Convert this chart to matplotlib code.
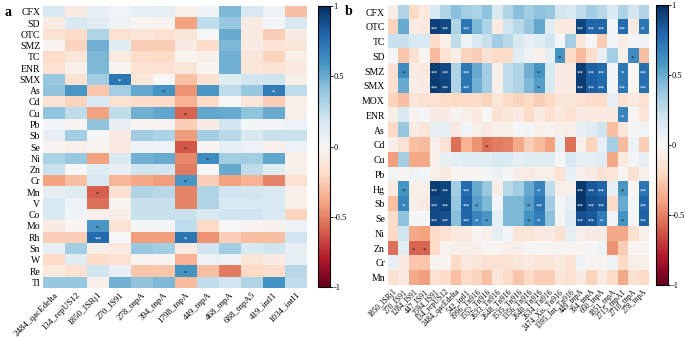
import numpy as np
import matplotlib
matplotlib.use("Agg")
import matplotlib.pyplot as plt

plt.rcParams['font.family'] = ['Liberation Serif', 'DejaVu Serif']
plt.rcParams['axes.unicode_minus'] = False

# ---- panel a ----
rows_a = ['CFX', 'SD', 'OTC', 'SMZ', 'TC', 'ENR', 'SMX', 'As', 'Cd', 'Cu', 'Pb', 'Sb', 'Se',
          'Ni', 'Zn', 'Cr', 'Mn', 'V', 'Co', 'Mo', 'Rh', 'Sn', 'W', 'Re', 'Tl']
cols_a = ['2484_qacEdelta', '134_repUS12', '1850_ISRj1', '270_IS91', '278_tnpA', '394_tnpA',
          '1798_tnpA', '449_tnpA', '468_tnpA', '688_tnpA5', '419_intI1', '1034_intI1']
vals_a = [
    [0.15, -0.08, 0.08, 0.03, 0.08, 0.10, -0.05, 0.04, 0.45, 0.15, 0.06, -0.30],
    [-0.08, 0.15, 0.12, 0.05, -0.02, -0.03, -0.40, 0.25, 0.38, -0.08, 0.02, 0.15],
    [-0.15, -0.18, 0.30, -0.15, -0.12, -0.15, -0.12, 0.00, 0.50, -0.10, -0.25, -0.08],
    [-0.03, -0.22, 0.48, 0.12, -0.25, -0.25, -0.08, -0.18, 0.45, -0.08, -0.13, -0.12],
    [-0.18, -0.12, 0.45, -0.10, -0.18, -0.20, -0.03, -0.06, 0.48, -0.12, -0.22, -0.06],
    [-0.15, -0.06, 0.45, -0.03, -0.15, -0.15, -0.12, -0.02, 0.48, -0.12, -0.15, -0.10],
    [0.38, -0.15, 0.35, 0.72, -0.12, 0.00, -0.30, -0.15, 0.12, 0.18, 0.20, -0.06],
    [0.40, 0.58, -0.28, 0.35, 0.52, 0.60, -0.45, 0.58, 0.25, 0.38, 0.70, 0.25],
    [-0.15, -0.22, 0.15, -0.15, -0.18, -0.20, -0.35, -0.20, 0.00, -0.12, -0.25, -0.06],
    [0.40, 0.25, -0.40, 0.25, 0.48, 0.52, -0.58, 0.52, 0.50, 0.40, 0.50, -0.05],
    [0.02, -0.03, 0.40, 0.08, -0.03, -0.03, -0.25, -0.08, 0.18, 0.02, 0.02, 0.06],
    [0.08, 0.35, 0.00, -0.08, 0.35, 0.32, -0.42, 0.35, 0.28, 0.15, 0.22, 0.22],
    [-0.03, -0.05, -0.03, -0.10, 0.06, 0.05, -0.62, -0.02, 0.10, 0.06, -0.05, 0.06],
    [0.32, 0.38, -0.40, 0.15, 0.48, 0.50, -0.48, 0.62, 0.35, 0.35, 0.52, -0.05],
    [0.22, 0.00, 0.12, 0.08, 0.20, 0.20, -0.52, 0.00, 0.50, 0.25, 0.12, -0.05],
    [-0.40, -0.30, 0.15, -0.33, -0.38, -0.42, 0.58, -0.25, -0.40, -0.35, -0.50, -0.15],
    [0.10, 0.12, -0.60, -0.15, 0.30, 0.28, -0.50, 0.30, 0.20, 0.18, 0.15, -0.05],
    [0.15, 0.06, -0.55, -0.03, 0.22, 0.22, -0.50, 0.30, 0.15, 0.15, 0.15, -0.05],
    [0.15, 0.04, -0.05, -0.06, 0.22, 0.22, 0.22, 0.15, 0.20, 0.20, 0.15, -0.22],
    [-0.08, -0.02, 0.58, -0.15, 0.02, 0.02, 0.25, -0.20, 0.00, -0.03, -0.04, 0.06],
    [-0.25, -0.25, 0.78, 0.00, -0.42, -0.42, 0.72, -0.45, -0.25, -0.30, -0.30, 0.20],
    [0.08, 0.35, -0.06, -0.10, 0.38, 0.35, -0.10, 0.20, 0.35, 0.15, 0.20, 0.08],
    [-0.20, 0.12, -0.18, -0.15, -0.02, -0.03, -0.35, 0.06, 0.05, -0.12, -0.08, 0.10],
    [-0.10, -0.15, 0.20, 0.08, -0.28, -0.28, 0.60, -0.30, -0.52, -0.20, -0.18, 0.28],
    [0.38, 0.38, -0.05, 0.48, 0.40, 0.45, -0.32, 0.25, 0.20, 0.30, 0.60, 0.25],
]
# significance marks: (row, col, text)
sig_a = [('SMX', '270_IS91', '*'), ('As', '394_tnpA', '*'), ('As', '419_intI1', '*'),
         ('Cu', '1798_tnpA', '*'), ('Se', '1798_tnpA', '*'), ('Ni', '449_tnpA', '*'),
         ('Cr', '1798_tnpA', '*'), ('Mn', '1850_ISRj1', '*'), ('Mo', '1850_ISRj1', '*'),
         ('Rh', '1850_ISRj1', '**'), ('Rh', '1798_tnpA', '*'), ('Re', '1798_tnpA', '*')]

# ---- panel b ----
rows_b = ['CFX', 'OTC', 'TC', 'SD', 'SMZ', 'SMX', 'MOX', 'ENR', 'As', 'Cd', 'Cu', 'Pb',
          'Hg', 'Sb', 'Se', 'Ni', 'Zn', 'Cr', 'Mn']
cols_b = ['1850_ISRj1', '270_IS91', '1284_IS91', '447_IS91', '2594_IS91', '134_repUS12',
          '2484_qacEdelta', '542_intI1', '1996_Tn916', '1552_Tn916', '2633_Tn916',
          '2648_Tn916', '1535_Tn916', '1356_Tn916', '2640_Tn916', '2634_Tn916',
          '2474_Xis_Tn916', '1395_Int_Tn916', '449_tnpA', '394_tnpA', '660_tnpA',
          '1851_tnpA', '2715_tnpA1', '2710_tnpA', '278_tnpA']
vals_b = [
    [-0.06, 0.30, -0.20, -0.10, 0.15, 0.30, 0.42, 0.35, 0.32, 0.40, 0.15, 0.30, 0.42,
     0.35, 0.40, 0.38, 0.18, 0.15, 0.25, 0.35, 0.28, 0.15, 0.32, 0.18, 0.30],
    [-0.22, 0.50, -0.08, -0.10, 0.93, 0.90, 0.30, 0.72, 0.45, 0.32, -0.10, 0.20, 0.28,
     0.38, 0.52, 0.12, -0.10, -0.10, 0.92, 0.80, 0.80, 0.03, 0.78, -0.08, 0.72],
    [0.22, 0.22, 0.15, 0.15, -0.18, -0.06, 0.25, 0.04, 0.15, 0.22, 0.35, 0.28, 0.15,
     0.08, 0.12, 0.20, 0.02, 0.35, -0.12, 0.02, -0.25, 0.03, -0.06, 0.02, 0.05],
    [0.02, -0.28, -0.15, -0.02, -0.32, -0.15, -0.06, -0.22, -0.25, -0.15, -0.20, -0.18, 0.12,
     0.06, -0.05, 0.10, 0.60, -0.20, -0.32, -0.18, 0.08, 0.35, -0.05, 0.62, -0.30],
    [-0.15, 0.62, -0.08, -0.10, 0.95, 0.90, 0.30, 0.72, 0.50, 0.35, -0.05, 0.25, 0.30,
     0.48, 0.60, 0.15, -0.08, -0.08, 0.95, 0.82, 0.78, 0.02, 0.72, -0.02, 0.75],
    [-0.15, 0.50, -0.06, -0.08, 0.95, 0.92, 0.30, 0.72, 0.48, 0.35, -0.05, 0.25, 0.30,
     0.45, 0.55, 0.15, -0.08, -0.08, 0.95, 0.82, 0.78, 0.02, 0.72, -0.02, 0.75],
    [-0.22, -0.30, -0.12, -0.15, -0.15, -0.18, -0.20, -0.20, -0.20, -0.22, -0.12, -0.18, -0.22,
     -0.20, -0.25, -0.20, -0.12, -0.12, -0.15, -0.18, -0.18, 0.08, -0.15, -0.10, -0.15],
    [-0.06, 0.15, -0.03, 0.02, -0.08, -0.08, -0.03, -0.06, -0.10, 0.00, -0.15, -0.12, -0.08,
     -0.20, -0.08, -0.15, -0.10, -0.15, -0.08, -0.10, -0.10, -0.10, 0.66, -0.02, -0.12],
    [-0.20, 0.38, -0.08, -0.12, 0.08, 0.08, -0.08, 0.03, -0.06, -0.08, -0.06, -0.06, 0.02,
     0.03, -0.05, -0.03, -0.05, -0.06, 0.08, 0.12, 0.20, -0.30, -0.12, 0.02, 0.03],
    [-0.05, -0.15, -0.30, -0.32, -0.05, -0.15, -0.55, -0.35, -0.45, -0.55, -0.52, -0.50, -0.38,
     -0.25, -0.32, -0.40, 0.08, -0.55, -0.05, -0.22, 0.08, 0.35, -0.32, 0.06, -0.25],
    [-0.42, 0.35, -0.38, -0.38, -0.05, 0.08, 0.10, 0.12, 0.12, 0.12, 0.15, 0.15, 0.10,
     0.12, 0.12, 0.12, 0.02, 0.15, 0.10, 0.10, 0.12, -0.38, -0.10, 0.02, 0.10],
    [0.03, -0.03, 0.05, 0.03, -0.06, -0.10, -0.03, -0.03, -0.03, 0.02, 0.06, 0.02, -0.06,
     -0.08, -0.06, -0.06, -0.15, 0.08, -0.05, -0.08, -0.15, -0.12, -0.03, -0.15, -0.06],
    [-0.10, 0.60, -0.06, -0.06, 0.95, 0.92, 0.35, 0.78, 0.50, 0.38, -0.06, 0.28, 0.35,
     0.50, 0.66, 0.25, -0.06, -0.06, 0.97, 0.85, 0.80, 0.08, 0.58, -0.02, 0.72],
    [-0.30, 0.66, -0.06, -0.08, 0.90, 0.92, 0.38, 0.80, 0.55, 0.45, 0.03, 0.45, 0.45,
     0.55, 0.72, 0.35, 0.02, 0.08, 0.97, 0.88, 0.85, -0.20, 0.50, 0.02, 0.80],
    [-0.18, 0.40, 0.02, 0.02, 0.90, 0.88, 0.42, 0.80, 0.66, 0.58, 0.10, 0.45, 0.45,
     0.60, 0.68, 0.40, 0.02, 0.12, 0.88, 0.85, 0.70, 0.03, 0.60, 0.02, 0.82],
    [-0.20, 0.20, -0.38, -0.40, -0.18, -0.15, -0.10, -0.10, -0.03, -0.05, 0.10, 0.02, -0.12,
     -0.12, -0.10, -0.08, -0.15, 0.10, -0.05, -0.08, -0.08, -0.38, -0.38, -0.15, -0.06],
    [-0.55, 0.12, -0.58, -0.58, -0.20, -0.03, -0.05, -0.05, -0.05, -0.03, -0.03, -0.05, -0.05,
     -0.03, -0.03, -0.02, -0.03, -0.03, -0.02, 0.02, 0.05, -0.45, -0.25, -0.02, -0.02],
    [0.08, -0.10, -0.28, -0.28, -0.03, -0.03, -0.20, -0.10, -0.12, -0.15, -0.15, -0.15, -0.12,
     -0.10, -0.12, -0.12, -0.10, -0.15, 0.05, -0.03, -0.03, 0.05, -0.20, -0.06, -0.06],
    [-0.15, -0.10, -0.38, -0.42, -0.15, -0.18, -0.30, -0.20, -0.22, -0.30, -0.12, -0.20, -0.28,
     -0.20, -0.25, -0.25, -0.12, -0.15, -0.08, -0.22, -0.10, -0.18, -0.38, -0.15, -0.20],
]
sig_b = [('OTC', '2594_IS91', '**'), ('OTC', '134_repUS12', '**'), ('OTC', '542_intI1', '**'),
         ('OTC', '449_tnpA', '**'), ('OTC', '394_tnpA', '**'), ('OTC', '660_tnpA', '**'),
         ('OTC', '2715_tnpA1', '**'), ('OTC', '278_tnpA', '*'),
         ('SD', '2474_Xis_Tn916', '*'), ('SD', '2710_tnpA', '*'),
         ('SMZ', '270_IS91', '*'), ('SMZ', '2594_IS91', '**'), ('SMZ', '134_repUS12', '**'),
         ('SMZ', '542_intI1', '**'), ('SMZ', '2640_Tn916', '*'), ('SMZ', '449_tnpA', '**'),
         ('SMZ', '394_tnpA', '**'), ('SMZ', '660_tnpA', '**'), ('SMZ', '2715_tnpA1', '*'),
         ('SMZ', '278_tnpA', '**'),
         ('SMX', '2594_IS91', '**'), ('SMX', '134_repUS12', '**'), ('SMX', '542_intI1', '**'),
         ('SMX', '2640_Tn916', '*'), ('SMX', '449_tnpA', '**'), ('SMX', '394_tnpA', '**'),
         ('SMX', '660_tnpA', '**'), ('SMX', '2715_tnpA1', '**'), ('SMX', '278_tnpA', '**'),
         ('ENR', '2715_tnpA1', '*'), ('Cd', '1552_Tn916', '*'),
         ('Hg', '270_IS91', '*'), ('Hg', '2594_IS91', '**'), ('Hg', '134_repUS12', '**'),
         ('Hg', '542_intI1', '**'), ('Hg', '2640_Tn916', '*'), ('Hg', '449_tnpA', '**'),
         ('Hg', '394_tnpA', '**'), ('Hg', '660_tnpA', '**'), ('Hg', '2715_tnpA1', '*'),
         ('Hg', '278_tnpA', '**'),
         ('Sb', '270_IS91', '*'), ('Sb', '2594_IS91', '**'), ('Sb', '134_repUS12', '**'),
         ('Sb', '542_intI1', '**'), ('Sb', '1996_Tn916', '*'), ('Sb', '1356_Tn916', '*'),
         ('Sb', '2640_Tn916', '**'), ('Sb', '449_tnpA', '**'), ('Sb', '394_tnpA', '**'),
         ('Sb', '660_tnpA', '**'), ('Sb', '278_tnpA', '**'),
         ('Se', '2594_IS91', '**'), ('Se', '134_repUS12', '**'), ('Se', '542_intI1', '**'),
         ('Se', '1996_Tn916', '*'), ('Se', '1552_Tn916', '*'), ('Se', '1356_Tn916', '*'),
         ('Se', '2640_Tn916', '*'), ('Se', '449_tnpA', '**'), ('Se', '394_tnpA', '**'),
         ('Se', '660_tnpA', '*'), ('Se', '2715_tnpA1', '*'), ('Se', '278_tnpA', '**'),
         ('Zn', '1284_IS91', '*'), ('Zn', '447_IS91', '*')]


def draw_heat(ax, cax, data, rows, cols, sig, xfs, lab, labx):
    data = np.array(data)
    im = ax.imshow(data, cmap='RdBu', vmin=-1, vmax=1, aspect='auto', interpolation='nearest')
    ax.set_yticks(range(len(rows)))
    ax.set_yticklabels(rows, fontsize=7)
    ax.set_xticks(range(len(cols)))
    ax.set_xticklabels(cols, fontsize=xfs, rotation=45, ha='right', rotation_mode='anchor')
    ax.tick_params(length=0, pad=2)
    for s in ax.spines.values():
        s.set_visible(False)
    for r, c, t in sig:
        i, j = rows.index(r), cols.index(c)
        col = 'white' if abs(data[i, j]) > 0.64 else '#222222'
        ax.text(j, i + 0.15, t, ha='center', va='center', fontsize=5, color=col)
    cb = plt.colorbar(im, cax=cax)
    cb.set_ticks([1, 0.5, 0, -0.5, -1])
    cb.set_ticklabels(['1', '0.5', '0', '-0.5', '-1'])
    cb.ax.tick_params(labelsize=6, length=2, width=0.6, pad=0.5)
    cb.outline.set_linewidth(0.8)
    ax.text(labx, 1.0, lab, transform=ax.transAxes, fontsize=10, fontweight='bold',
            va='top', ha='left')


fig = plt.figure(figsize=(6.85, 3.4), dpi=100)
ax_a = fig.add_axes([0.0628, 0.153, 0.384, 0.829])
cax_a = fig.add_axes([0.464, 0.156, 0.0175, 0.826])
ax_b = fig.add_axes([0.566, 0.162, 0.380, 0.824])
cax_b = fig.add_axes([0.958, 0.162, 0.0175, 0.824])

draw_heat(ax_a, cax_a, vals_a, rows_a, cols_a, sig_a, 6.5, 'a', -0.145)
draw_heat(ax_b, cax_b, vals_b, rows_b, cols_b, sig_b, 5.5, 'b', -0.165)

fig.savefig('out.png', dpi=100)
